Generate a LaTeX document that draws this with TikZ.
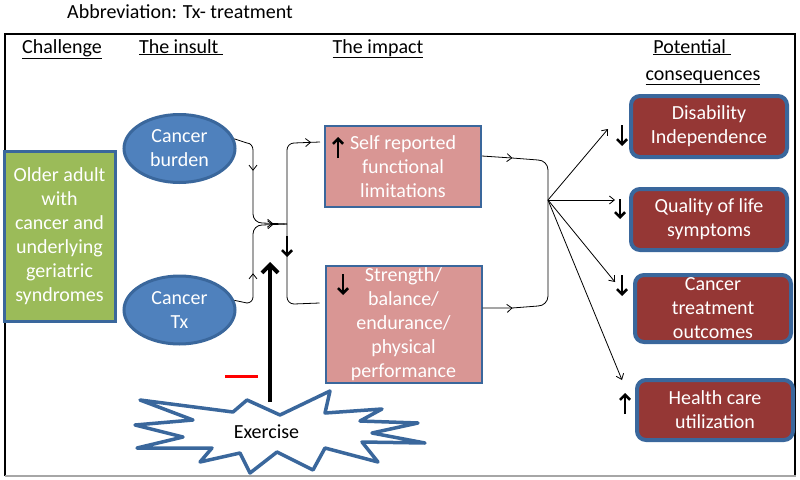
\documentclass[tikz,border=0pt]{standalone}
\usepackage{fontspec}
\setmainfont{Carlito}
\usetikzlibrary{arrows.meta,shapes.geometric,decorations.markings,calc}
\definecolor{bordblue}{HTML}{3A679C}
\definecolor{ellfill}{HTML}{4F81BD}
\definecolor{gfill}{HTML}{9BBB59}
\definecolor{pfill}{HTML}{D99694}
\definecolor{rfill}{HTML}{953735}
\definecolor{framegray}{HTML}{A6A6A6}
\begin{document}
\begin{tikzpicture}[x=1pt,y=-1pt,font=\fontsize{20}{24}\selectfont,
  gbox/.style={rectangle,draw=bordblue,line width=3pt,fill=gfill,minimum width=111pt,minimum height=170pt,inner sep=0pt,align=center,text=white},
  ell/.style={ellipse,draw=bordblue,line width=3pt,fill=ellfill,minimum width=111pt,minimum height=68pt,inner sep=0pt,align=center,text=white},
  pbox/.style={rectangle,draw=bordblue,line width=2pt,fill=pfill,minimum width=156pt,inner sep=0pt,align=center,text=white},
  rbox/.style={rectangle,rounded corners=9pt,draw=bordblue,line width=4pt,fill=rfill,minimum width=156pt,inner sep=0pt,align=center,text=white},
  head/.style={anchor=base,inner sep=0pt},
  conn/.style={draw=black,line width=0.8pt},
  thintip/.tip={Straight Barb[length=5pt,width=8pt]},
  arr/.style={conn,-thintip},
  ma/.style={postaction={decorate,decoration={markings,mark=at position #1 with {\arrow{thintip}}}}},
  glyph/.style={line width=2.6pt,-{Straight Barb[length=5pt,width=10pt]}},
  star/.style={draw=bordblue,line width=3.5pt,fill=white,line join=round}]
\useasboundingbox (0,0) rectangle (800,479);
% frame
\draw[line width=1.5pt] (5,476) -- (5,34) -- (795,34) -- (795,476);
\draw[framegray,line width=2pt] (5,476) -- (796,476);
% title and headings
\node[anchor=west,inner sep=0pt] (title) at (67,12) {Abbreviation: Tx- treatment};
\node[head] (hch) at (62,53) {\underline{Challenge}};
\node[head] (hin) at (181,53) {\underline{The insult\ }};
\node[head] (him) at (378,53) {\underline{The impact}};
\node[head] (hpo) at (692,53) {\underline{Potential\ }};
\node[head] (hco) at (703,80) {\underline{consequences}};
% boxes
\node[gbox] (older) at (59.5,236) {Older adult\\with\\cancer and\\underlying\\geriatric\\syndromes};
\node[ell] (cb) at (179.5,148.5) {Cancer\\burden};
\node[ell] (ctx) at (179.5,310) {Cancer\\Tx};
\node[pbox,minimum height=81pt] (pb1) at (403,166.5) {Self reported\\functional\\limitations};
\node[pbox,minimum height=117pt] (pb2) at (403.5,324.5) {Strength/\\balance/\\endurance/\\physical\\performance};
\node[rbox,minimum height=61pt] (d1) at (709,126.5) {Disability\\Independence};
\node[rbox,minimum height=61pt] (d2) at (709,219.5) {Quality of life\\symptoms};
\node[rbox,minimum height=67pt] (d3) at (713,308.5) {Cancer\\treatment\\outcomes};
\node[rbox,minimum height=60pt] (d4) at (715,410) {Health care\\utilization};
% exercise star
\draw[star] (140,400) -- (233,412) -- (247,400) -- (280,415) -- (330,391) -- (325,413)
  -- (382,409) -- (360,421) -- (418,423) -- (372,433) -- (425,443) -- (362,442)
  -- (378,462) -- (325,448) -- (313,470) -- (277,452) -- (250,473) -- (240,453)
  -- (200,462) -- (212,448) -- (137,448) -- (183,437) -- (135,425) -- (193,420) -- cycle;
\node[inner sep=0pt,text=black] (ex) at (266.5,432) {Exercise};
% junction coordinates
\coordinate (j1) at (287,224);
\coordinate (j2) at (548,200);
% insult connectors
\draw[conn,ma=0.35,ma=0.89] (cb.10) -- (247,143) to[out=0,in=90] (253,150) -- (253,214) to[out=-90,in=180] (262,223) -- (j1);
\draw[conn,ma=0.37,ma=0.89] (ctx.10) -- (247,303) to[out=0,in=-90] (253,297) -- (253,234) to[out=90,in=180] (262,225) -- (j1);
\draw[conn,ma=0.92] (j1) -- (287,150) to[out=90,in=180] (294,143) -- ($(pb1.north west)+(-4,17)$);
\draw[conn] (j1) -- (287,297) to[out=-90,in=180] (294,304) -- ($(pb2.north west)+(-5,38)$);
\draw[glyph] (287,236) -- (287,257);
% impact connectors
\draw[conn,ma=0.3] ($(pb1.north east)+(0,31)$) -- (512,158) -- (538,160) to[out=0,in=90] (548,170) -- (j2);
\draw[conn,ma=0.18] ($(pb2.north east)+(0,43)$) -- (512,308) -- (538,306) to[out=0,in=-90] (548,296) -- (j2);
% fan out
\coordinate (e1) at (608,129);
\coordinate (e2) at (615,200);
\coordinate (e3) at (615,282);
\coordinate (e4) at (622,380);
\draw[arr] (j2) -- (e1);
\draw[arr] (j2) -- (e2);
\draw[arr] (j2) -- (e3);
\draw[arr] (j2) -- (e4);
% direction glyphs
\draw[glyph] (338,158) -- (338,137);
\draw[glyph] (343,274) -- (343,295);
\draw[glyph] (622,125) -- (622,146);
\draw[glyph] (620,199) -- (620,219);
\draw[glyph] (622,275) -- (622,296);
\draw[glyph] (625,414) -- (625,393);
% exercise arrow and red minus
\draw[line width=4pt,-{Straight Barb[length=8pt,width=16pt]}] (270,402) -- (270,262);
\draw[red,line width=3pt] (225,376) -- (258,376);
\end{tikzpicture}
\end{document}
